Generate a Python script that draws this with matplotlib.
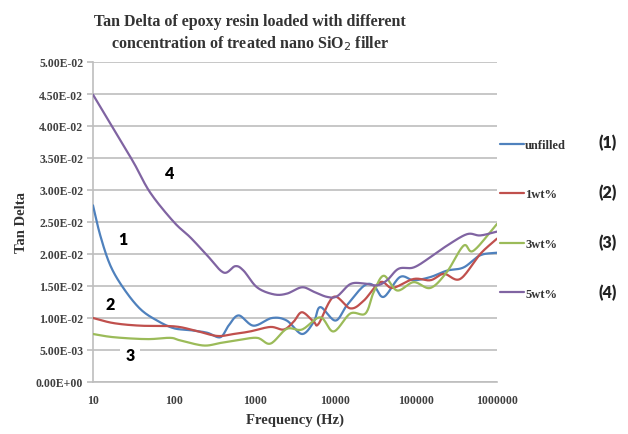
import numpy as np
import matplotlib
matplotlib.use("Agg")
import matplotlib.pyplot as plt
from matplotlib.ticker import FuncFormatter, FixedLocator

# Tan delta vs frequency for epoxy resin with treated nano SiO2 filler
unfilled_f = [10, 12.3, 16.4, 24, 38.5, 62, 100, 160, 258, 377, 476, 635, 970, 1640, 2500,
              3860, 5400, 6500, 10000, 13900, 22400, 29700, 39600, 63000, 93000, 150000,
              240000, 386000, 620000, 1000000]
unfilled_v = [0.0276, 0.0229, 0.0182, 0.0146, 0.0114, 0.0096, 0.0084, 0.0081, 0.0077, 0.0070,
              0.0088, 0.0104, 0.0088, 0.0100, 0.0096, 0.0075, 0.0094, 0.0117, 0.0096, 0.0120,
              0.0150, 0.0151, 0.0133, 0.0164, 0.0159, 0.0164, 0.0174, 0.0179, 0.0198, 0.0202]

wt1_f = [10, 18, 38.5, 100, 176, 340, 550, 880, 1570, 2300, 3030, 3860, 5400, 6200, 9500,
         15300, 22400, 36000, 51000, 93000, 150000, 220000, 350000, 620000, 1000000]
wt1_v = [0.0100, 0.0092, 0.0088, 0.0087, 0.0081, 0.0072, 0.0075, 0.0079, 0.0086, 0.0082,
         0.0094, 0.0109, 0.0094, 0.0091, 0.0133, 0.0115, 0.0127, 0.0156, 0.0147, 0.0161,
         0.0159, 0.0169, 0.0161, 0.0200, 0.0224]

wt3_f = [10, 18, 46.6, 90, 120, 234, 377, 600, 1070, 1570, 2500, 3860, 6500, 9500, 15300,
         23500, 29700, 39600, 58000, 93000, 150000, 240000, 386000, 510000, 1000000]
wt3_v = [0.0075, 0.0070, 0.0067, 0.0069, 0.0065, 0.0057, 0.0061, 0.0065, 0.0069, 0.0060,
         0.0083, 0.0082, 0.0101, 0.0079, 0.0107, 0.0107, 0.0140, 0.0166, 0.0143, 0.0156,
         0.0147, 0.0172, 0.0213, 0.0205, 0.0247]

wt5_f = [10, 18, 31.8, 51, 100, 160, 258, 414, 576, 730, 1070, 1720, 2500, 3860, 5400, 7870,
         10500, 15300, 22400, 32700, 43600, 60600, 93000, 150000, 240000, 426000, 620000,
         1000000]
wt5_v = [0.0449, 0.0395, 0.0343, 0.0296, 0.0250, 0.0226, 0.0198, 0.0171, 0.0181, 0.0174,
         0.0148, 0.0137, 0.0138, 0.0148, 0.0141, 0.0133, 0.0134, 0.0153, 0.0154, 0.0151,
         0.0159, 0.0177, 0.0179, 0.0195, 0.0213, 0.0231, 0.0229, 0.0235]

series_names = ["unfilled", "1wt%", "3wt%", "5wt%"]
series_tags = ["(1)", "(2)", "(3)", "(4)"]
colors = ["#4F81BD", "#C0504D", "#9BBB59", "#8064A2"]

x_ticks = [10, 100, 1000, 10000, 100000, 1000000]
y_ticks = [0.0, 0.005, 0.01, 0.015, 0.02, 0.025, 0.03, 0.035, 0.04, 0.045, 0.05]

SERIF = "Liberation Serif"
SANS = "Lato"


def smooth(xs, ys, n=16):
    """Catmull-Rom smoothing in log-frequency space (like a smoothed line chart)."""
    lx = np.log10(np.asarray(xs, float))
    y = np.asarray(ys, float)
    px = np.concatenate([[2 * lx[0] - lx[1]], lx, [2 * lx[-1] - lx[-2]]])
    py = np.concatenate([[2 * y[0] - y[1]], y, [2 * y[-1] - y[-2]]])
    outx, outy = [], []
    t = np.linspace(0, 1, n, endpoint=False)
    for i in range(1, len(px) - 2):
        for arr, out in ((px, outx), (py, outy)):
            p0, p1, p2, p3 = arr[i - 1], arr[i], arr[i + 1], arr[i + 2]
            out.extend(0.5 * ((2 * p1) + (-p0 + p2) * t
                              + (2 * p0 - 5 * p1 + 4 * p2 - p3) * t ** 2
                              + (-p0 + 3 * p1 - 3 * p2 + p3) * t ** 3))
    outx.append(lx[-1])
    outy.append(y[-1])
    return 10 ** np.array(outx), np.array(outy)


fig = plt.figure(figsize=(6.28, 4.35), dpi=100)
ax = fig.add_axes([93 / 628, 1 - 383 / 435, 404 / 628, 320 / 435])

data = [(unfilled_f, unfilled_v), (wt1_f, wt1_v), (wt3_f, wt3_v), (wt5_f, wt5_v)]
handles = []
for (fx, fv), name, c in zip(data, series_names, colors):
    sx, sy = smooth(fx, fv)
    h, = ax.plot(sx, sy, color=c, lw=1.6, label=name, solid_capstyle="round", zorder=3)
    handles.append(h)

ax.set_xscale("log")
ax.set_xlim(10, 1000000)
ax.set_ylim(0, 0.05)
ax.xaxis.set_major_locator(FixedLocator(x_ticks))
ax.xaxis.set_minor_locator(FixedLocator([]))
ax.xaxis.set_major_formatter(FuncFormatter(lambda v, p: f"{int(round(v))}"))
ax.yaxis.set_major_locator(FixedLocator(y_ticks))
ax.yaxis.set_major_formatter(FuncFormatter(lambda v, p: f"{v:.2E}"))

ax.grid(axis="y", color="#BEBEBE", lw=1.2, zorder=0)
for side in ("top", "right"):
    ax.spines[side].set_visible(False)
for side in ("left", "bottom"):
    ax.spines[side].set_color("#BEBEBE")
    ax.spines[side].set_linewidth(1.2)
ax.tick_params(axis="y", length=4, color="#BEBEBE", width=1.2, pad=3)
ax.tick_params(axis="x", length=0, pad=9)
for lab in ax.get_xticklabels() + ax.get_yticklabels():
    lab.set_fontfamily(SERIF)
    lab.set_fontweight("bold")
    lab.set_fontsize(8.5)
    lab.set_color("#404040")

ax.set_xlabel("Frequency (Hz)", fontfamily=SERIF, fontweight="bold", fontsize=10.5,
              color="#333333", labelpad=4)
ax.set_ylabel("Tan Delta", fontfamily=SERIF, fontweight="bold", fontsize=10.5,
              color="#333333", labelpad=6)

fig.text(250 / 628, 1 - 22 / 435, "Tan Delta of epoxy resin loaded with different",
         ha="center", va="center", fontfamily=SERIF, fontweight="bold", fontsize=11.5,
         color="#333333")
fig.text(250 / 628, 1 - 44 / 435, "concentration of treated nano SiO$_2$ filler",
         ha="center", va="center", fontfamily=SERIF, fontweight="bold", fontsize=11.5,
         color="#333333")

# curve numbers
num_style = dict(fontfamily=SANS, fontweight="heavy", fontsize=11.5, color="black",
                 ha="center", va="center", zorder=4)
fig.text(123 / 628, 1 - 240 / 435, "1", **num_style)
fig.text(110 / 628, 1 - 305 / 435, "2", **num_style)
fig.text(130 / 628, 1 - 356 / 435, "3", bbox=dict(fc="white", ec="none", pad=4), **num_style)
fig.text(170 / 628, 1 - 174 / 435, "4", **num_style)

leg = ax.legend(handles=handles, loc="upper left", bbox_to_anchor=(500 / 628, 1 - 140 / 435),
                bbox_transform=fig.transFigure, frameon=False, handlelength=1.9,
                handletextpad=0.1, labelspacing=3.0, borderaxespad=0, borderpad=0,
                prop=dict(family=SERIF, weight="bold", size=9))
for t in leg.get_texts():
    t.set_color("#333333")

for i, tag in enumerate(series_tags):
    fig.text(608 / 628, 1 - (143 + 50 * i) / 435, tag, ha="center", va="center",
             fontfamily=SANS, fontweight="heavy", fontsize=11.5, color="#222222")

fig.savefig("out.png", dpi=100)
